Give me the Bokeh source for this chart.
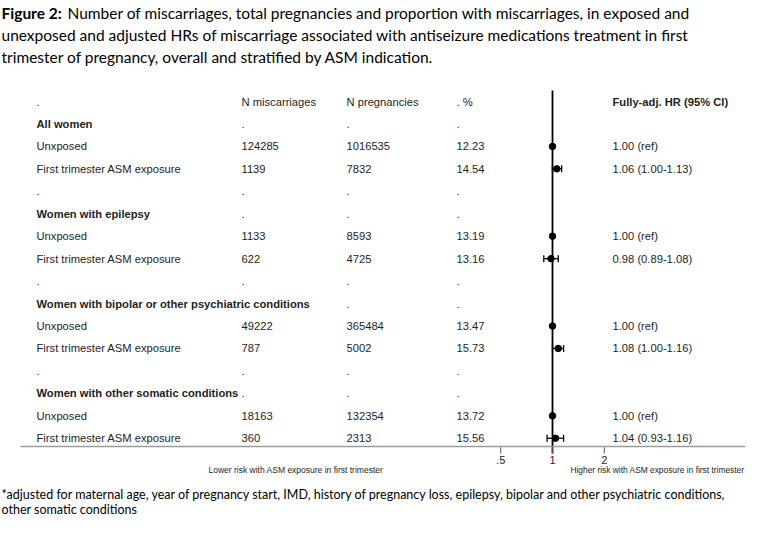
import math
from bokeh.plotting import figure
from bokeh.models import Range1d, LogScale, ColumnDataSource
from bokeh.core.properties import value
from bokeh.embed import file_html
from bokeh.resources import INLINE

# ---------------- data ----------------
groups = ["All women", "Women with epilepsy",
          "Women with bipolar or other psychiatric conditions",
          "Women with other somatic conditions"]
unexp_label = "Unxposed"
exp_label = "First trimester ASM exposure"
n_misc_unexp = [124285, 1133, 49222, 18163]
n_preg_unexp = [1016535, 8593, 365484, 132354]
pct_unexp = [12.23, 13.19, 13.47, 13.72]
n_misc_exp = [1139, 622, 787, 360]
n_preg_exp = [7832, 4725, 5002, 2313]
pct_exp = [14.54, 13.16, 15.73, 15.56]
hr_ref = 1.00
hr = [1.06, 0.98, 1.08, 1.04]
hr_lo = [1.00, 0.89, 1.00, 0.93]
hr_hi = [1.13, 1.08, 1.16, 1.16]
tick_values = [0.5, 1, 2]
tick_labels = [".5", "1", "2"]
col_headers = [".", "N miscarriages", "N pregnancies", ". %", "Fully-adj. HR (95% CI)"]
title_bold = "Figure 2:"
title_lines = [
    "Number of miscarriages, total pregnancies and proportion with miscarriages, in exposed and",
    "unexposed and adjusted HRs of miscarriage associated with antiseizure medications treatment in first",
    "trimester of pregnancy, overall and stratified by ASM indication.",
]
footnote_lines = [
    "*adjusted for maternal age, year of pregnancy start, IMD, history of pregnancy loss, epilepsy, bipolar and other psychiatric conditions,",
    "other somatic conditions",
]
lower_txt = "Lower risk with ASM exposure in first trimester"
higher_txt = "Higher risk with ASM exposure in first trimester"

# ---------------- layout constants ----------------
W, H = 745, 518
X0, Y0 = 0, 0
COLX = [36, 241, 346, 456, 612]   # text columns (px)
ROW0, STEP = 101, 22.45
X_ONE, PX_DOUBLE = 552, 51.8      # position of HR=1 and px per doubling
TABLE_FONT = value("Liberation Sans")
TITLE_FONT = value("Lato")
TXT = "#1e1e1e"

# build table rows
rows = []
rows.append((col_headers, "header", None, None, None))
for i, g in enumerate(groups):
    rows.append(([g, ".", ".", ".", ""], "group", None, None, None))
    rows.append(([unexp_label, str(n_misc_unexp[i]), str(n_preg_unexp[i]),
                  f"{pct_unexp[i]:.2f}", f"{hr_ref:.2f} (ref)"], "row", hr_ref, None, None))
    rows.append(([exp_label, str(n_misc_exp[i]), str(n_preg_exp[i]),
                  f"{pct_exp[i]:.2f}", f"{hr[i]:.2f} ({hr_lo[i]:.2f}-{hr_hi[i]:.2f})"],
                 "row", hr[i], hr_lo[i], hr_hi[i]))
    if i < len(groups) - 1:
        rows.append(([".", ".", ".", ".", ""], "row", None, None, None))

norm = dict(x=[], y=[], text=[])
bold = dict(x=[], y=[], text=[])
pts = dict(x=[], y=[])
ci = dict(lo=[], hi=[], y=[], y0=[], y1=[])
for r, (texts, kind, pt, lo, hi) in enumerate(rows):
    y = ROW0 + r * STEP
    for c, t in enumerate(texts):
        if not t:
            continue
        is_bold = (kind == "group" and c == 0) or (kind == "header" and c == 4)
        d = bold if is_bold else norm
        d["x"].append(COLX[c]); d["y"].append(y); d["text"].append(t)
    if pt is not None:
        pts["x"].append(pt); pts["y"].append(y)
    if lo is not None:
        ci["lo"].append(lo); ci["hi"].append(hi); ci["y"].append(y)
        ci["y0"].append(y - 3.5); ci["y1"].append(y + 3.5)

# log range mapping for the forest plot
k = PX_DOUBLE / math.log(2)
ln_a = -(X_ONE - X0) / k
ln_b = ln_a + W / k

p = figure(width=W, height=H, x_range=Range1d(X0, X0 + W), y_range=Range1d(Y0 + H, Y0),
           output_backend="svg", toolbar_location=None, min_border=0,
           x_axis_location=None, y_axis_location=None, outline_line_color=None)
p.grid.visible = False
p.extra_x_ranges = {"hr": Range1d(math.exp(ln_a), math.exp(ln_b))}
p.extra_x_scales = {"hr": LogScale()}

# title
ty = [12, 34, 56]
p.text(x=[X0 + 1], y=[ty[0]], text=[title_bold], text_font=TITLE_FONT, text_font_size="15.5px",
       text_font_style="bold", text_baseline="middle", text_color="black")
p.text(x=[X0 + 67] + [X0 + 1] * 2, y=ty, text=title_lines, text_font=TITLE_FONT,
       text_font_size="15.5px", text_baseline="middle", text_color="black")

# table text
p.text(x="x", y="y", text="text", source=ColumnDataSource(norm), text_font=TABLE_FONT,
       text_font_size="11.2px", text_baseline="middle", text_color=TXT)
p.text(x="x", y="y", text="text", source=ColumnDataSource(bold), text_font=TABLE_FONT,
       text_font_size="11.2px", text_font_style="bold", text_baseline="middle", text_color=TXT)

# forest plot
p.segment(x0=[1], x1=[1], y0=[90], y1=[453], x_range_name="hr", line_color="black", line_width=1.8)
csrc = ColumnDataSource(ci)
p.segment(x0="lo", x1="hi", y0="y", y1="y", source=csrc, x_range_name="hr", line_color="black", line_width=1.3)
p.segment(x0="lo", x1="lo", y0="y0", y1="y1", source=csrc, x_range_name="hr", line_color="black", line_width=1.3)
p.segment(x0="hi", x1="hi", y0="y0", y1="y1", source=csrc, x_range_name="hr", line_color="black", line_width=1.3)
p.scatter(x="x", y="y", source=ColumnDataSource(pts), x_range_name="hr", size=6.5,
          fill_color="black", line_color="black")

# x axis drawn on log scale
p.segment(x0=[20], x1=[X0 + W], y0=[446], y1=[446], line_color="#9a9a9a", line_width=1.6)
p.segment(x0=tick_values, x1=tick_values, y0=[447] * 3, y1=[453] * 3, x_range_name="hr",
          line_color="#555555", line_width=1)
p.text(x=tick_values, y=[459] * 3, text=tick_labels, x_range_name="hr", text_align="center",
       text_baseline="middle", text_font=TABLE_FONT, text_font_size="11px", text_color=TXT)
p.text(x=[208], y=[469], text=[lower_txt], text_font=TABLE_FONT,
       text_font_size="8.5px", text_baseline="middle", text_color=TXT)
p.text(x=[X0 + W - 1], y=[469], text=[higher_txt], text_font=TABLE_FONT, text_align="right",
       text_font_size="8.4px", text_baseline="middle", text_color=TXT)

# footnote
p.text(x=[X0 + 1, X0 + 1], y=[494, 509], text=footnote_lines, text_font=TITLE_FONT,
       text_font_size="12.5px", text_baseline="middle", text_color="black")

open("out.html", "w").write(file_html(p, INLINE))
